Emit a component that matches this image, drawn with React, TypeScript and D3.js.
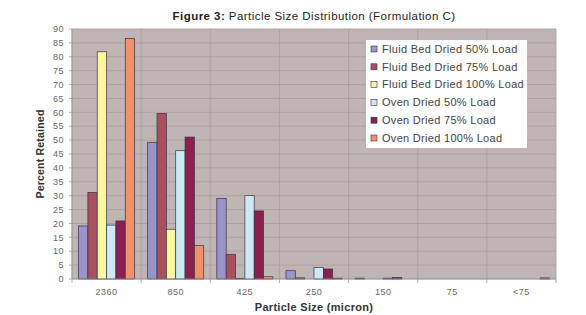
import React from "react";
import * as d3 from "d3";

const categories = ["2360", "850", "425", "250", "150", "75", "<75"];
const seriesNames = [
  "Fluid Bed Dried 50% Load",
  "Fluid Bed Dried 75% Load",
  "Fluid Bed Dried 100% Load",
  "Oven Dried 50% Load",
  "Oven Dried 75% Load",
  "Oven Dried 100% Load",
];
const fb50 = [19.1, 49.2, 29.0, 3.0, 0.3, 0, 0];
const fb75 = [31.1, 59.6, 8.9, 0.4, 0, 0, 0];
const fb100 = [81.8, 17.9, 0.2, 0, 0, 0, 0];
const od50 = [19.4, 46.2, 30.0, 4.1, 0.3, 0, 0];
const od75 = [20.9, 51.1, 24.5, 3.6, 0.5, 0, 0];
const od100 = [86.6, 12.0, 0.8, 0.3, 0, 0, 0.4];
const seriesValues = [fb50, fb75, fb100, od50, od75, od100];
const colors = ["#9a94cc", "#a8505e", "#fbf8a0", "#cde9f6", "#8a2052", "#f48f6c"];
const yTicks = d3.range(0, 91, 5);

export default function App() {
  const W = 586, H = 315;
  const left = 72, right = 556, top = 29, bottom = 279;
  const x0 = d3.scaleBand().domain(categories).range([left, right]).paddingInner(0).paddingOuter(0);
  const x1 = d3.scaleBand().domain(seriesNames).range([0, x0.bandwidth()]).paddingOuter(0.7).paddingInner(0);
  const y = d3.scaleLinear().domain([0, 90]).range([bottom, top]);
  const font = "'Liberation Sans', Arial, sans-serif";
  const boundaries = categories.map((c) => x0(c)!).concat([right]);

  return (
    <svg width={W} height={H} style={{ position: "absolute", left: 0, top: 0 }} fontFamily={font}>
      <rect x={0} y={0} width={W} height={H} fill="#fff" />
      <text x={314} y={20} textAnchor="middle" fontSize={11.5} letterSpacing={0.45} fill="#222">
        <tspan fontWeight="bold">Figure 3:</tspan> Particle Size Distribution (Formulation C)
      </text>
      <rect x={left} y={top} width={right - left} height={bottom - top} fill="#c0b5b5" />
      {yTicks.map((t) => (
        <line key={"g" + t} x1={left} x2={right} y1={y(t)} y2={y(t)} stroke="#a89c9c" strokeWidth={0.8} />
      ))}
      {boundaries.map((b, i) => (
        <line key={"v" + i} x1={b} x2={b} y1={top} y2={bottom} stroke="#a89c9c" strokeWidth={0.8} />
      ))}
      {categories.map((c, ci) =>
        seriesNames.map((s, si) => {
          const v = seriesValues[si][ci];
          if (v <= 0) return null;
          return (
            <rect
              key={c + s}
              x={x0(c)! + x1(s)!}
              y={y(v)}
              width={x1.bandwidth()}
              height={bottom - y(v)}
              fill={colors[si]}
              stroke="#3a3040"
              strokeWidth={0.7}
            />
          );
        })
      )}
      <line x1={left} x2={left} y1={top} y2={bottom} stroke="#9a9a9a" strokeWidth={0.8} />
      <line x1={left} x2={right} y1={bottom} y2={bottom} stroke="#9a9a9a" strokeWidth={0.8} />
      {yTicks.map((t) => (
        <g key={"t" + t}>
          <line x1={left - 3} x2={left} y1={y(t)} y2={y(t)} stroke="#9a9a9a" strokeWidth={0.8} />
          <text x={64} y={y(t) + 3.2} textAnchor="end" fontSize={9} letterSpacing={0.5} fill="#666">
            {t}
          </text>
        </g>
      ))}
      {boundaries.map((b, i) => (
        <line key={"xt" + i} x1={b} x2={b} y1={bottom} y2={bottom + 4} stroke="#9a9a9a" strokeWidth={0.8} />
      ))}
      {categories.map((c) => (
        <text key={"xl" + c} x={x0(c)! + x0.bandwidth() / 2} y={295} textAnchor="middle" fontSize={9} letterSpacing={0.5} fill="#666">
          {c}
        </text>
      ))}
      <text x={314} y={311} textAnchor="middle" fontSize={11} letterSpacing={0.3} fontWeight="bold" fill="#333">
        Particle Size (micron)
      </text>
      <text
        transform={`translate(44, ${(top + bottom) / 2}) rotate(-90)`}
        textAnchor="middle"
        fontSize={10.5}
        letterSpacing={0.2}
        fontWeight="bold"
        fill="#333"
      >
        Percent Retained
      </text>
      <rect x={366} y={40} width={161} height={108} fill="#fff" />
      {seriesNames.map((s, i) => (
        <g key={"lg" + s}>
          <rect x={371} y={46 + i * 17.8} width={6} height={6} fill={colors[i]} stroke="#3a3040" strokeWidth={0.6} />
          <text x={382} y={52.8 + i * 17.8} fontSize={11} letterSpacing={0.3} fill="#444">
            {s}
          </text>
        </g>
      ))}
    </svg>
  );
}
